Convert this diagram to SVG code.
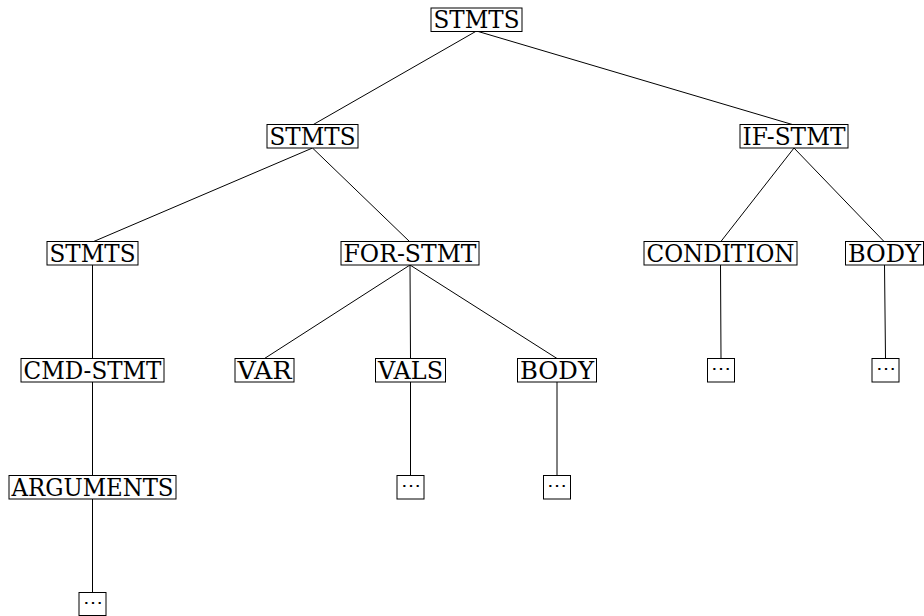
<svg xmlns="http://www.w3.org/2000/svg" width="924" height="616" viewBox="0 0 924 616">
  <style>
    .box { fill: #ffffff; stroke: #000000; stroke-width: 1; }
    .lbl { font-family: "DejaVu Serif", "Liberation Serif", "Times New Roman", serif; font-size: 23.5px; fill: #000000; text-anchor: middle; }
    .dots { font-family: "DejaVu Serif", "Liberation Serif", serif; font-size: 20px; fill: #000000; text-anchor: middle; }
    .edge { stroke: #000000; stroke-width: 1; fill: none; }
  </style>

  <!-- tree edges: parent bottom-centre to child top-centre -->
  <g id="edges">
    <line class="edge" x1="476.5" y1="31" x2="312.5" y2="125"/>
    <line class="edge" x1="476.5" y1="31" x2="794" y2="125"/>
    <line class="edge" x1="312.5" y1="148" x2="92.5" y2="242"/>
    <line class="edge" x1="312.5" y1="148" x2="410" y2="242"/>
    <line class="edge" x1="794" y1="148" x2="720.5" y2="242"/>
    <line class="edge" x1="794" y1="148" x2="884.5" y2="242"/>
    <line class="edge" x1="92.5" y1="265" x2="92.5" y2="358.5"/>
    <line class="edge" x1="410" y1="265" x2="264.5" y2="358.5"/>
    <line class="edge" x1="410" y1="265" x2="410.5" y2="358.5"/>
    <line class="edge" x1="410" y1="265" x2="557" y2="358.5"/>
    <line class="edge" x1="720.5" y1="265" x2="721" y2="358.5"/>
    <line class="edge" x1="884.5" y1="265" x2="885.5" y2="358.5"/>
    <line class="edge" x1="92.5" y1="382" x2="92.5" y2="475.5"/>
    <line class="edge" x1="410.5" y1="382" x2="410.5" y2="475.5"/>
    <line class="edge" x1="557" y1="382" x2="557" y2="475.5"/>
    <line class="edge" x1="92.5" y1="499" x2="92.5" y2="592.5"/>
  </g>

  <!-- level 0 -->
  <g id="root-stmts">
    <rect class="box" x="431" y="8" width="91" height="23.5"/>
    <text class="lbl" x="476.5" y="28" textLength="86" lengthAdjust="spacingAndGlyphs">STMTS</text>
  </g>

  <!-- level 1 -->
  <g id="stmts-1">
    <rect class="box" x="267" y="124.5" width="91" height="23.5"/>
    <text class="lbl" x="312.5" y="144.5" textLength="86" lengthAdjust="spacingAndGlyphs">STMTS</text>
  </g>
  <g id="if-stmt">
    <rect class="box" x="740" y="124.5" width="108" height="23.5"/>
    <text class="lbl" x="794" y="144.5" textLength="103" lengthAdjust="spacingAndGlyphs">IF-STMT</text>
  </g>

  <!-- level 2 -->
  <g id="stmts-2">
    <rect class="box" x="47" y="241.5" width="91" height="23.5"/>
    <text class="lbl" x="92.5" y="261.5" textLength="86" lengthAdjust="spacingAndGlyphs">STMTS</text>
  </g>
  <g id="for-stmt">
    <rect class="box" x="341" y="241.5" width="138" height="23.5"/>
    <text class="lbl" x="410" y="261.5" textLength="133" lengthAdjust="spacingAndGlyphs">FOR-STMT</text>
  </g>
  <g id="condition">
    <rect class="box" x="644" y="241.5" width="153" height="23.5"/>
    <text class="lbl" x="720.5" y="261.5" textLength="148" lengthAdjust="spacingAndGlyphs">CONDITION</text>
  </g>
  <g id="if-body">
    <rect class="box" x="845.5" y="241.5" width="78" height="23.5"/>
    <text class="lbl" x="884.5" y="261.5" textLength="73" lengthAdjust="spacingAndGlyphs">BODY</text>
  </g>

  <!-- level 3 -->
  <g id="cmd-stmt">
    <rect class="box" x="21" y="358.5" width="143" height="23.5"/>
    <text class="lbl" x="92.5" y="378.5" textLength="138" lengthAdjust="spacingAndGlyphs">CMD-STMT</text>
  </g>
  <g id="var">
    <rect class="box" x="235" y="358.5" width="59" height="23.5"/>
    <text class="lbl" x="264.5" y="378.5" textLength="54" lengthAdjust="spacingAndGlyphs">VAR</text>
  </g>
  <g id="vals">
    <rect class="box" x="375.5" y="358.5" width="70" height="23.5"/>
    <text class="lbl" x="410.5" y="378.5" textLength="65" lengthAdjust="spacingAndGlyphs">VALS</text>
  </g>
  <g id="for-body">
    <rect class="box" x="517.5" y="358.5" width="79" height="23.5"/>
    <text class="lbl" x="557" y="378.5" textLength="74" lengthAdjust="spacingAndGlyphs">BODY</text>
  </g>
  <g id="condition-rest">
    <rect class="box" x="707.5" y="358.5" width="27" height="23.5"/>
    <text class="dots" x="721" y="374.5">⋯</text>
  </g>
  <g id="if-body-rest">
    <rect class="box" x="872" y="358.5" width="27" height="23.5"/>
    <text class="dots" x="885.5" y="374.5">⋯</text>
  </g>

  <!-- level 4 -->
  <g id="arguments">
    <rect class="box" x="9" y="475.5" width="167" height="23.5"/>
    <text class="lbl" x="92.5" y="495.5" textLength="162" lengthAdjust="spacingAndGlyphs">ARGUMENTS</text>
  </g>
  <g id="vals-rest">
    <rect class="box" x="397" y="475.5" width="27" height="23.5"/>
    <text class="dots" x="410.5" y="491.5">⋯</text>
  </g>
  <g id="for-body-rest">
    <rect class="box" x="543.5" y="475.5" width="27" height="23.5"/>
    <text class="dots" x="557" y="491.5">⋯</text>
  </g>

  <!-- level 5 -->
  <g id="arguments-rest">
    <rect class="box" x="79" y="592.5" width="27" height="23"/>
    <text class="dots" x="92.5" y="608.5">⋯</text>
  </g>
</svg>
